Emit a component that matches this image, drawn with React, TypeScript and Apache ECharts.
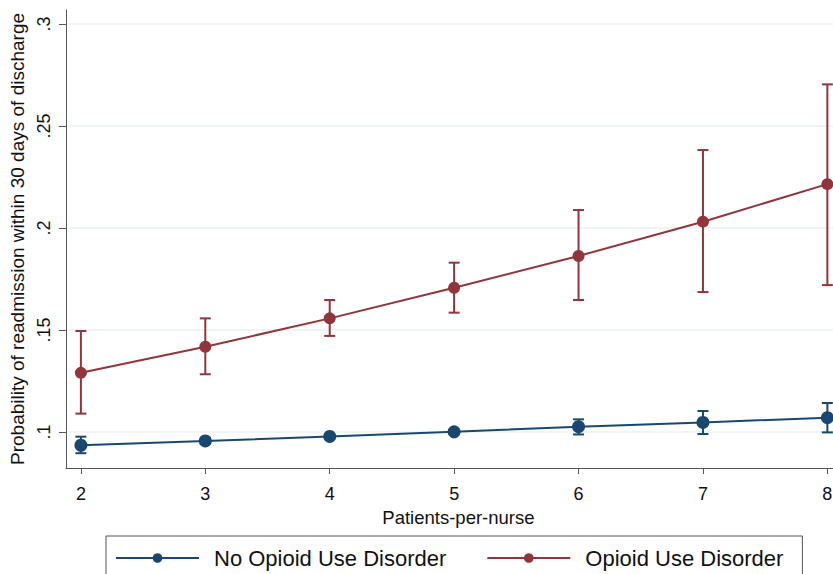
import React, { useEffect, useRef } from "react";
import * as echarts from "echarts";

const patientsPerNurse = [2, 3, 4, 5, 6, 7, 8];
const noOudMean = [0.0935, 0.0956, 0.0978, 0.1001, 0.1026, 0.1047, 0.107];
const noOudLow = [0.0896, 0.0941, 0.0968, 0.0992, 0.0988, 0.099, 0.0998];
const noOudHigh = [0.0977, 0.0971, 0.0988, 0.101, 0.1062, 0.1103, 0.1142];
const oudMean = [0.129, 0.1418, 0.1557, 0.1707, 0.1863, 0.2031, 0.2215];
const oudLow = [0.109, 0.1283, 0.1471, 0.1585, 0.1647, 0.1686, 0.172];
const oudHigh = [0.1495, 0.1557, 0.1647, 0.183, 0.2088, 0.2382, 0.2704];
const xTicks = [2, 3, 4, 5, 6, 7, 8];
const yTicks = [0.1, 0.15, 0.2, 0.25, 0.3];

const BLUE = "#1a476f";
const RED = "#90353b";
const FONT = "Liberation Sans, Arial, sans-serif";

function errorBars(name: string, low: number[], high: number[], color: string) {
  return {
    type: "custom",
    name,
    z: 1,
    data: patientsPerNurse.map((x, i) => [x, low[i], high[i]]),
    renderItem: (params: any, api: any) => {
      const x = api.value(0);
      const lo = api.coord([x, api.value(1)]);
      const hi = api.coord([x, api.value(2)]);
      const hw = 5.5;
      const style = { stroke: color, lineWidth: 2 };
      return {
        type: "group",
        children: [
          { type: "line", shape: { x1: lo[0], y1: lo[1], x2: hi[0], y2: hi[1] }, style },
          { type: "line", shape: { x1: lo[0] - hw, y1: lo[1], x2: lo[0] + hw, y2: lo[1] }, style },
          { type: "line", shape: { x1: hi[0] - hw, y1: hi[1], x2: hi[0] + hw, y2: hi[1] }, style },
        ],
      };
    },
  };
}

export default function App() {
  const ref = useRef<HTMLDivElement>(null);
  useEffect(() => {
    if (!ref.current) return;
    const chart = echarts.init(ref.current, undefined, { renderer: "svg" });
    chart.setOption({
      animation: false,
      backgroundColor: "#ffffff",
      grid: { left: 65, top: 10, width: 786, height: 458, containLabel: false },
      legend: {
        left: 106,
        top: 536,
        orient: "horizontal",
        data: ["No Opioid Use Disorder", "Opioid Use Disorder"],
        itemWidth: 83,
        itemHeight: 12,
        itemGap: 40,
        borderColor: "#555555",
        borderWidth: 1,
        padding: [11, 19, 11, 9],
        textStyle: { fontSize: 22, color: "#111111", fontFamily: FONT, padding: [0, 0, 0, 10] },
      },
      xAxis: {
        type: "value",
        min: 1.8795,
        max: 8.19,
        name: "Patients-per-nurse",
        nameLocation: "middle",
        nameGap: 31,
        nameTextStyle: { fontSize: 18.5, color: "#111111", fontFamily: FONT },
        axisLine: { show: true, lineStyle: { color: "#555555", width: 1 } },
        axisTick: { show: true, customValues: xTicks, length: 6, lineStyle: { color: "#555555" } },
        axisLabel: { customValues: xTicks, fontSize: 18, color: "#111111", fontFamily: FONT, margin: 17 },
        splitLine: { show: false },
      },
      yAxis: {
        type: "value",
        min: 0.08235,
        max: 0.30686,
        name: "Probability of readmission within 30 days of discharge",
        nameLocation: "middle",
        nameGap: 35,
        nameRotate: 90,
        nameTextStyle: { fontSize: 19, color: "#111111", fontFamily: FONT },
        axisLine: { show: true, lineStyle: { color: "#555555", width: 1 } },
        axisTick: { show: true, customValues: yTicks, length: 7, lineStyle: { color: "#555555" } },
        axisLabel: {
          customValues: yTicks,
          rotate: 90,
          fontSize: 18,
          color: "#111111",
          fontFamily: FONT,
          margin: 13,
          formatter: (v: number) => String(v).replace(/^0/, ""),
        },
        splitLine: { show: true, lineStyle: { color: "#eaf2f3", width: 1.5 } },
      },
      series: [
        errorBars("noOudCI", noOudLow, noOudHigh, BLUE),
        errorBars("oudCI", oudLow, oudHigh, RED),
        {
          type: "line",
          name: "No Opioid Use Disorder",
          z: 3,
          data: patientsPerNurse.map((x, i) => [x, noOudMean[i]]),
          symbol: "circle",
          symbolSize: 13,
          lineStyle: { color: BLUE, width: 2 },
          itemStyle: { color: BLUE },
        },
        {
          type: "line",
          name: "Opioid Use Disorder",
          z: 3,
          data: patientsPerNurse.map((x, i) => [x, oudMean[i]]),
          symbol: "circle",
          symbolSize: 12,
          lineStyle: { color: RED, width: 2 },
          itemStyle: { color: RED },
        },
      ],
    });
    return () => chart.dispose();
  }, []);
  return (
    <div
      ref={ref}
      style={{ position: "fixed", left: 0, top: 0, width: 870, height: 574 }}
    />
  );
}
